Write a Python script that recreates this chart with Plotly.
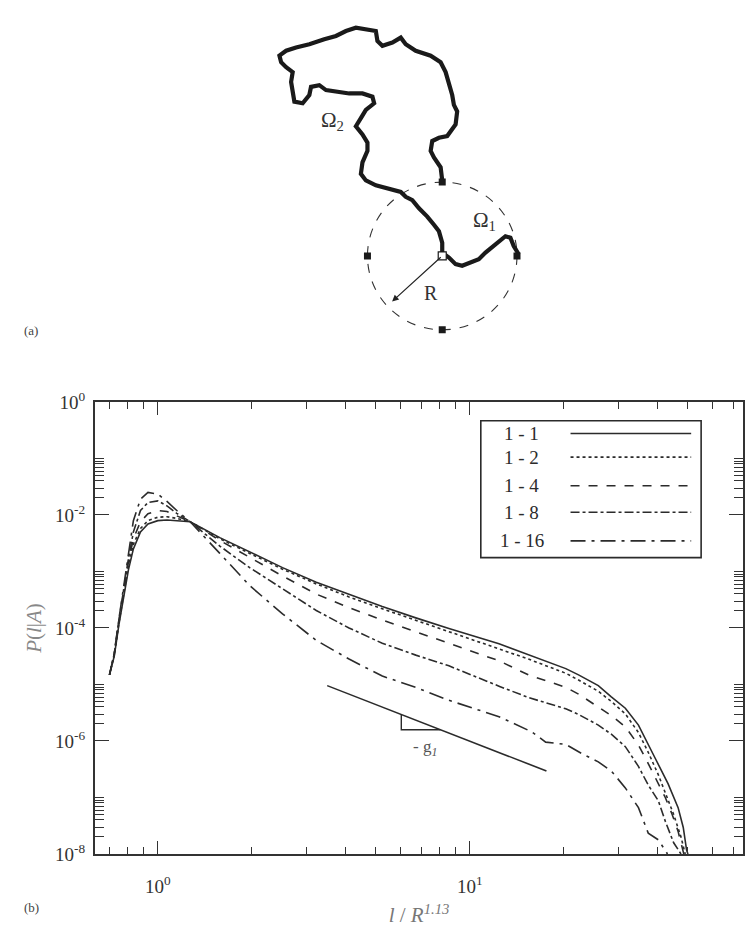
import math
import plotly.graph_objects as go

# ---------------- data for panel (b) ----------------
x_11 = [0.70, 0.725, 0.75, 0.776, 0.805, 0.835, 0.88, 0.93, 1.0, 1.07, 1.15, 1.27,
        1.58, 1.97, 2.51, 3.22, 4.10, 5.24, 6.71, 8.57, 12.4, 15.4, 20.3, 22.3, 25.8,
        28.4, 31.5, 34.7, 37.3, 39.3, 43.2, 46.5, 48.3, 49.5, 50.0]
y_11 = [1.48e-5, 3.16e-5, 1.12e-4, 3.55e-4, 1.07e-3, 2.51e-3, 5.01e-3, 6.92e-3, 7.94e-3,
        8.13e-3, 7.94e-3, 7.59e-3, 3.98e-3, 2.24e-3, 1.17e-3, 6.46e-4, 3.89e-4, 2.40e-4,
        1.51e-4, 9.77e-5, 5.25e-5, 3.39e-5, 1.91e-5, 1.48e-5, 9.55e-6, 6.03e-6, 3.80e-6,
        1.91e-6, 8.91e-7, 4.90e-7, 1.74e-7, 6.61e-8, 2.95e-8, 1.17e-8, 1.0e-8]

x_12 = [0.70, 0.725, 0.75, 0.776, 0.805, 0.835, 0.88, 0.93, 1.0, 1.07, 1.15, 1.27,
        1.58, 1.97, 2.51, 3.22, 4.10, 5.24, 6.71, 8.57, 12.4, 15.4, 20.3, 22.3, 25.8,
        28.4, 31.5, 34.7, 37.3, 40.2, 42.3, 45.0, 47.5, 49.0]
y_12 = [1.48e-5, 3.31e-5, 1.20e-4, 3.98e-4, 1.26e-3, 3.02e-3, 5.75e-3, 7.94e-3, 9.12e-3,
        9.33e-3, 8.71e-3, 7.59e-3, 3.80e-3, 2.09e-3, 1.10e-3, 6.03e-4, 3.55e-4, 2.19e-4,
        1.38e-4, 8.71e-5, 4.27e-5, 2.82e-5, 1.58e-5, 1.20e-5, 7.59e-6, 5.01e-6, 3.02e-6,
        1.41e-6, 6.31e-7, 2.51e-7, 1.20e-7, 5.01e-8, 2.0e-8, 1.0e-8]

x_14 = [0.70, 0.725, 0.75, 0.776, 0.805, 0.835, 0.88, 0.93, 1.0, 1.07, 1.15, 1.27,
        1.58, 1.97, 2.51, 3.22, 4.10, 5.24, 6.71, 8.57, 12.4, 15.4, 20.3, 22.3, 25.8,
        28.4, 31.5, 34.7, 37.3, 40.2, 42.3, 44.5, 46.5, 48.5]
y_14 = [1.48e-5, 3.39e-5, 1.26e-4, 4.37e-4, 1.48e-3, 3.80e-3, 7.59e-3, 1.05e-2, 1.20e-2,
        1.15e-2, 9.55e-3, 7.59e-3, 3.55e-3, 1.78e-3, 8.32e-4, 3.98e-4, 2.29e-4, 1.38e-4,
        8.51e-5, 5.37e-5, 2.63e-5, 1.48e-5, 8.91e-6, 6.76e-6, 3.98e-6, 2.82e-6, 1.78e-6,
        8.51e-7, 3.98e-7, 1.78e-7, 1.0e-7, 5.01e-8, 2.51e-8, 1.0e-8]

x_18 = [0.70, 0.725, 0.75, 0.776, 0.805, 0.835, 0.88, 0.93, 1.0, 1.07, 1.15, 1.27,
        1.58, 1.97, 2.51, 3.22, 4.10, 5.24, 6.71, 8.57, 12.4, 15.4, 20.3, 22.3, 25.8,
        28.4, 31.5, 34.7, 37.3, 40.2, 42.3, 45.0, 47.5]
y_18 = [1.48e-5, 3.47e-5, 1.35e-4, 4.79e-4, 1.66e-3, 5.01e-3, 1.20e-2, 1.66e-2, 1.78e-2,
        1.45e-2, 1.07e-2, 7.59e-3, 2.82e-3, 1.17e-3, 5.01e-4, 2.04e-4, 1.0e-4, 5.37e-5,
        3.31e-5, 2.14e-5, 9.33e-6, 5.89e-6, 3.72e-6, 2.95e-6, 1.91e-6, 1.32e-6, 7.94e-7,
        3.55e-7, 1.66e-7, 8.71e-8, 3.80e-8, 1.58e-8, 1.0e-8]

x_116 = [0.70, 0.725, 0.75, 0.776, 0.805, 0.835, 0.88, 0.93, 1.0, 1.07, 1.15, 1.27,
         1.58, 1.97, 2.51, 3.22, 4.10, 5.24, 6.71, 8.57, 12.4, 15.8, 17.5, 20.3, 22.8,
         25.8, 28.4, 31.5, 34.7, 37.3, 40.2, 42.3, 43.0]
y_116 = [1.48e-5, 3.55e-5, 1.41e-4, 5.01e-4, 2.0e-3, 7.94e-3, 1.91e-2, 2.51e-2, 2.34e-2,
         1.74e-2, 1.20e-2, 7.59e-3, 2.09e-3, 5.62e-4, 1.78e-4, 6.03e-5, 2.82e-5, 1.41e-5,
         8.91e-6, 5.25e-6, 2.69e-6, 1.45e-6, 9.55e-7, 8.71e-7, 6.03e-7, 4.27e-7, 2.95e-7,
         1.48e-7, 6.61e-8, 2.34e-8, 1.78e-8, 1.17e-8, 1.0e-8]

series_names = ["1 - 1", "1 - 2", "1 - 4", "1 - 8", "1 - 16"]
series_dash = ["solid", "dot", "dash", "dashdot", "longdashdot"]

# slope guide and triangle
guide_x = [3.49, 17.6]
guide_y = [9.55e-6, 2.95e-7]
tri_x = [6.03, 6.03, 8.05]
tri_y = [2.95e-6, 1.58e-6, 1.58e-6]
slope_label_x, slope_label_y = 7.2, 7.6e-7

# axis ticks
x_major = [1, 10]
x_major_text = ["10<sup>0</sup>", "10<sup>1</sup>"]
y_major = [1, 1e-2, 1e-4, 1e-6, 1e-8]
y_major_text = ["10<sup>0</sup>", "10<sup>-2</sup>", "10<sup>-4</sup>", "10<sup>-6</sup>", "10<sup>-8</sup>"]

# ---------------- data for panel (a): schematic (pixel units) ----------------
path_x = [443.3, 441.7, 435, 431.7, 433.3, 440, 448.3, 456.7, 458.3, 455, 453.3, 450, 446.7,
          441.7, 431.7, 416.7, 406.7, 401.7, 393.3, 383.3, 378.3, 376.7, 368.3, 356.7, 346.7,
          336.7, 325, 310, 296.7, 286.7, 280, 281.7, 286.7, 293.3, 291.7, 293.3, 295, 303.3,
          310, 311.7, 320, 326.7, 336.7, 350, 363.3, 373.3, 375, 366.7, 361.7, 356.7, 363.3,
          368.3, 368.3, 363.3, 361.7, 366.7, 376.7, 390, 401.7, 406.7, 413.3, 420, 428.3, 435,
          440, 443.3, 443.3, 450, 456.7, 463.3, 471.7, 480, 486.7, 496.7, 506.7, 511.7, 515, 520]
path_y = [170, 156.7, 146.7, 140, 130, 126.7, 125, 113.3, 100, 93.3, 83.3, 71.7, 60, 50,
          43.3, 38.3, 31.7, 25, 30, 33.3, 28.3, 18.3, 16.7, 15, 18.3, 23.3, 26.7, 31.7, 35,
          38.3, 43.3, 50, 55, 60, 70, 80, 90, 91.7, 83.3, 75, 73.3, 78.3, 80, 81.7, 81.7, 85,
          91.7, 98.3, 106.7, 115, 123.3, 131.7, 140, 151.7, 163.3, 170, 175, 178.3, 181.7,
          186.7, 190, 198.3, 206.7, 215, 221.7, 233.3, 243.3, 248.3, 255, 256.7, 253.3, 250,
          243.3, 235, 226.7, 228.3, 236.7, 245]
circle_cx, circle_cy, circle_r = 443.3, 246.7, 75.0
sq_x = [443.3, 368.3, 443.3, 518.3]
sq_y = [171.7, 246.7, 321.7, 246.7]

# ---------------- layout geometry ----------------
W, H = 745, 930
ML, MR, MT, MB = 95, 0, 0, 76
PW, PH = W - ML - MR, H - MT - MB


def px(x):
    return (x - ML) / PW


def py(y):
    return 1 - (y - MT) / PH


SERIF = "Liberation Serif, Times New Roman, serif"
INK = "#2b2b2b"

fig = go.Figure()

xs = [x_11, x_12, x_14, x_18, x_116]
ys = [y_11, y_12, y_14, y_18, y_116]
for xv, yv, name, dash in zip(xs, ys, series_names, series_dash):
    fig.add_trace(go.Scatter(x=xv, y=yv, mode="lines", name=name,
                             line=dict(color=INK, width=1.6, dash=dash),
                             showlegend=False, xaxis="x", yaxis="y"))

fig.add_trace(go.Scatter(x=guide_x, y=guide_y, mode="lines",
                         line=dict(color=INK, width=1.6), showlegend=False))
fig.add_trace(go.Scatter(x=tri_x, y=tri_y, mode="lines",
                         line=dict(color=INK, width=1.4), showlegend=False))

# panel (a)
fig.add_trace(go.Scatter(x=path_x, y=path_y, mode="lines", xaxis="x2", yaxis="y2",
                         line=dict(color="#1a1a1a", width=4.2), showlegend=False))
fig.add_trace(go.Scatter(x=sq_x, y=sq_y, mode="markers", xaxis="x2", yaxis="y2",
                         marker=dict(symbol="square", size=7, color="#1a1a1a"),
                         showlegend=False))
fig.add_trace(go.Scatter(x=[circle_cx], y=[circle_cy], mode="markers", xaxis="x2", yaxis="y2",
                         marker=dict(symbol="square", size=8, color="white",
                                     line=dict(color="#1a1a1a", width=1.2)),
                         showlegend=False))

shapes = []
shapes.append(dict(type="circle", xref="x2", yref="y2",
                   x0=circle_cx - circle_r, x1=circle_cx + circle_r,
                   y0=circle_cy - circle_r, y1=circle_cy + circle_r,
                   line=dict(color="#333", width=1.1, dash="dash"), layer="below"))

# custom legend box
shapes.append(dict(type="rect", xref="paper", yref="paper",
                   x0=px(482), x1=px(703), y0=py(553), y1=py(414),
                   line=dict(color=INK, width=1.6)))
leg_rows = [427, 451, 480, 507, 536]
annotations = []
for name, dash, ry in zip(series_names, series_dash, leg_rows):
    shapes.append(dict(type="line", xref="paper", yref="paper",
                       x0=px(572), x1=px(693), y0=py(ry), y1=py(ry),
                       line=dict(color=INK, width=1.6, dash=dash)))
    annotations.append(dict(xref="paper", yref="paper", x=px(523), y=py(ry),
                            text=name, showarrow=False, xanchor="center", yanchor="middle",
                            font=dict(family=SERIF, size=19, color=INK)))

annotations += [
    dict(x=math.log10(slope_label_x), y=math.log10(slope_label_y), xref="x", yref="y",
         text="- g<sub><i>1</i></sub>", showarrow=False,
         font=dict(family=SERIF, size=17, color="#555")),
    dict(xref="paper", yref="paper", x=px(22), y=py(322), text="(a)", showarrow=False,
         font=dict(family=SERIF, size=13, color="#444")),
    dict(xref="paper", yref="paper", x=px(22), y=py(918), text="(b)", showarrow=False,
         font=dict(family=SERIF, size=13, color="#444")),
    dict(xref="x2", yref="y2", x=333, y=110, text="Ω<sub>2</sub>", showarrow=False,
         font=dict(family=SERIF, size=21, color="#333")),
    dict(xref="x2", yref="y2", x=486, y=211, text="Ω<sub>1</sub>", showarrow=False,
         font=dict(family=SERIF, size=21, color="#333")),
    dict(xref="x2", yref="y2", x=432, y=284, text="R", showarrow=False,
         font=dict(family=SERIF, size=20, color="#333")),
    dict(xref="x2", yref="y2", axref="x2", ayref="y2", x=393, y=293,
         ax=circle_cx, ay=circle_cy, text="", showarrow=True, arrowhead=2,
         arrowsize=1.1, arrowwidth=1.2, arrowcolor="#222"),
]

y_minor = [k * 10.0 ** d for d in (-2, -4, -6, -8) for k in range(2, 11)]
x_minor = [0.7, 0.8, 0.9] + list(range(2, 10)) + [20, 30, 40, 50, 60, 70]

fig.update_layout(
    width=W, height=H, margin=dict(l=ML, r=MR, t=MT, b=MB),
    paper_bgcolor="white", plot_bgcolor="white",
    showlegend=False,
    shapes=shapes, annotations=annotations,
    xaxis=dict(type="log", range=[-0.2013, 1.8754], domain=[0, 1], anchor="y",
               showgrid=False, zeroline=False, showline=True, linecolor="#333", linewidth=2,
               mirror="allticks", ticks="inside", ticklen=13, tickwidth=1.3, tickcolor="#333",
               tickmode="array", tickvals=x_major, ticktext=x_major_text,
               ticklabelstandoff=14,
               tickfont=dict(family=SERIF, size=19, color="#333"),
               minor=dict(tickmode="array", tickvals=x_minor, ticks="inside", ticklen=7,
                          tickwidth=1.2, tickcolor="#333", showgrid=False),
               title=dict(text="<i>l</i> / <i>R</i><sup><i>1.13</i></sup>", standoff=12,
                          font=dict(family=SERIF, size=21, color="#777"))),
    yaxis=dict(type="log", range=[-8, 0], domain=[0, py(395)], anchor="x",
               showgrid=False, zeroline=False, showline=True, linecolor="#333", linewidth=2,
               mirror="allticks", ticks="inside", ticklen=14, tickwidth=1.3, tickcolor="#333",
               tickmode="array", tickvals=y_major, ticktext=y_major_text,
               ticklabelstandoff=4,
               tickfont=dict(family=SERIF, size=19, color="#333"),
               minor=dict(tickmode="array", tickvals=y_minor, ticks="inside", ticklen=9,
                          tickwidth=1.2, tickcolor="#333", showgrid=False),
               title=dict(text="<i>P</i>(<i>l</i>|<i>A</i>)", standoff=8,
                          font=dict(family=SERIF, size=21, color="#888"))),
    xaxis2=dict(domain=[0, 1], range=[ML, W - MR], anchor="y2", visible=False,
                showgrid=False, zeroline=False),
    yaxis2=dict(domain=[py(345), 1], range=[345, MT], anchor="x2", visible=False,
                showgrid=False, zeroline=False),
)

fig.write_html("out.html")
